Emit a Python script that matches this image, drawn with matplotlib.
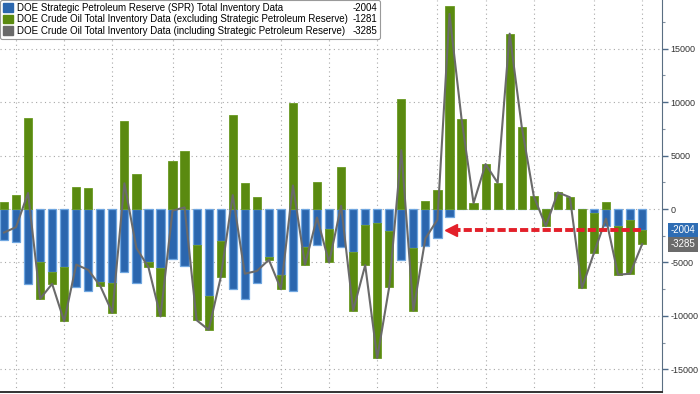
"""DOE weekly inventory changes: SPR vs commercial crude, stacked bars + total line."""
import matplotlib
matplotlib.use("Agg")
import matplotlib.pyplot as plt
import numpy as np
from matplotlib.patches import Patch
from matplotlib.ticker import MultipleLocator

# weekly changes, thousand barrels
spr = [-2900, -3050, -7000, -5000, -5900, -5400, -7250, -7700, -6800, -6900,
       -5850, -6900, -5000, -5550, -4650, -5300, -3400, -8100, -3000, -7500,
       -8450, -6900, -4500, -6200, -7700, -3600, -3350, -1900, -3600, -4000,
       -1500, -1350, -2050, -4750, -3650, -3500, -2750, -750, 0, 0,
       0, 0, 0, 0, 0, 0, 0, 0, 0, -350,
       -1550, -1550, -1000, -2004]
crude_ex_spr = [700, 1350, 8500, -3400, -1100, -5100, 2050, 2000, -400, -2800,
                8250, 3250, -450, -4500, 4500, 5450, -7000, -3200, -3400, 8800,
                2400, 1100, -250, -1300, 9900, -1600, 2550, -3100, 3900, -5500,
                -3750, -12600, -5200, 10250, -5850, 750, 1750, 19000, 8450, 550,
                4200, 2450, 16400, 7700, 1200, -1600, 1550, 1100, -7400, -3750,
                650, -4600, -5050, -1281]
crude_incl_spr = [-2200, -1700, 1500, -8400, -7000, -10500, -5200, -5700, -7200, -9700,
                  2400, -3650, -5450, -10050, -150, 150, -10400, -11300, -6400, 1300,
                  -6050, -5800, -4750, -7500, 2200, -5200, -800, -5000, 300, -9500,
                  -5250, -13950, -7250, 5500, -9500, -2750, -1000, 18250, 8450, 550,
                  4200, 2450, 16400, 7700, 1200, -1600, 1550, 1100, -7400, -4100,
                  -900, -6150, -6050, -3285]
# week index where each month starts (vertical grid)
month_marks = [1, 5, 9, 14, 18, 23, 27, 31, 36, 40, 44, 49, 53]
labels = ["DOE Strategic Petroleum Reserve (SPR) Total Inventory Data",
          "DOE Crude Oil Total Inventory Data (excluding Strategic Petroleum Reserve)",
          "DOE Crude Oil Total Inventory Data (including Strategic Petroleum Reserve)"]
last_values = ["-2004", "-1281", "-3285"]

BLUE = "#2b66ae"
GREEN = "#5a8a10"
GRAY = "#6a6a6a"

plt.rcParams["font.family"] = ["Liberation Sans", "DejaVu Sans"]
plt.rcParams["axes.unicode_minus"] = False

fig = plt.figure(figsize=(7, 3.94), dpi=100)
ax = fig.add_axes([0, 0.005, 662 / 700, 0.995])

x = np.arange(len(spr))
spr_a = np.array(spr)
crude_a = np.array(crude_ex_spr)
green_bottom = np.where(crude_a >= 0, np.maximum(spr_a, 0), np.minimum(spr_a, 0))

ax.bar(x, spr_a, width=0.68, color=BLUE, edgecolor="#6fa6e0", linewidth=0.9, zorder=3)
ax.bar(x, crude_a, bottom=green_bottom, width=0.68, color=GREEN,
       edgecolor="#6a9a22", linewidth=0.6, zorder=3)
ax.plot(x, crude_incl_spr, color=GRAY, lw=1.5, zorder=4)

# red arrow pointing back to the last comparable SPR draw
ax.plot([52.9, 37.6], [spr[-1], spr[-1]], color="#e3202a", lw=2.8,
        dashes=(2.1, 0.8), solid_capstyle="butt", zorder=5)
ax.plot([37.1], [spr[-1]], marker="<", color="#e3202a", markersize=9, zorder=5)

ax.set_xlim(-0.33, 54.65)
ax.set_ylim(-17120, 19550)

ax.yaxis.tick_right()
ax.yaxis.set_major_locator(MultipleLocator(5000))
ax.yaxis.set_minor_locator(MultipleLocator(2500))
ax.tick_params(axis="y", which="major", length=4, width=1, color="#4d6a88",
               labelsize=6.5, labelcolor="#333333", pad=2)
ax.tick_params(axis="y", which="minor", length=2.5, width=0.8, color="#8090a0")
ax.set_xticks(month_marks)
ax.set_xticklabels([])
ax.tick_params(axis="x", length=0)

ax.grid(True, which="major", color="#a8a8a8", linestyle=(0, (1, 3)), lw=0.8, zorder=0)

for side in ("top", "left"):
    ax.spines[side].set_visible(False)
ax.spines["right"].set_color("#5a6e82")
ax.spines["bottom"].set_color("#333333")
ax.spines["bottom"].set_linewidth(1.4)

# last value tags on the right axis
for val, face in ((spr[-1], "#2e6db4"), (crude_incl_spr[-1], "#6b6b6b")):
    ax.annotate(str(val), xy=(1.0, val), xycoords=("axes fraction", "data"),
                xytext=(6, 0), textcoords="offset points", va="center", ha="left",
                fontsize=7, color="white", annotation_clip=False,
                bbox=dict(boxstyle="square,pad=0.25", fc=face, ec="none"))

# legend with the latest value as a second column
handles = [Patch(color=BLUE), Patch(color=GREEN), Patch(color=GRAY)]
blank = [Patch(alpha=0) for _ in range(3)]
leg = ax.legend(handles + blank, labels + last_values, ncol=2, loc="upper left",
                bbox_to_anchor=(0, 1), borderaxespad=0, fontsize=7,
                handlelength=1.0, handleheight=1.0, handletextpad=0.4,
                columnspacing=-0.9, labelspacing=0.15, borderpad=0.3,
                frameon=True, fancybox=True, framealpha=1)
leg.get_frame().set_edgecolor("#9a9a9a")
leg.get_frame().set_linewidth(0.8)
leg.set_zorder(10)

fig.savefig("out.png", dpi=100)
